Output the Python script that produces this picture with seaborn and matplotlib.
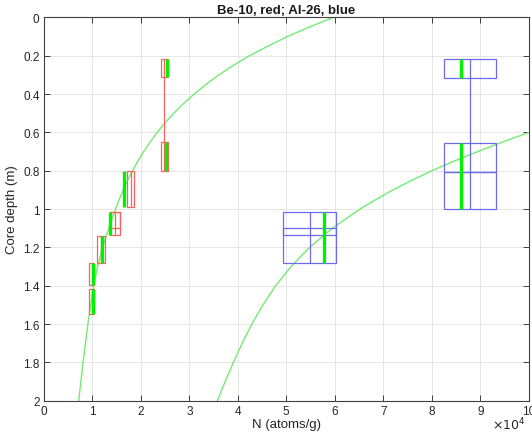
import numpy as np
import pandas as pd
import matplotlib
matplotlib.use("Agg")
import matplotlib.pyplot as plt
from matplotlib.patches import Rectangle
import seaborn as sns

# Measured concentrations (units of 1e4 atoms/g) and sample depth intervals (m)
be_N = [2.485, 2.485, 1.795, 1.468, 1.468, 1.185, 0.99, 0.99]
be_dN = [0.07, 0.07, 0.075, 0.103, 0.103, 0.085, 0.05, 0.05]
be_ztop = [0.217, 0.649, 0.800, 1.017, 1.017, 1.139, 1.283, 1.418]
be_zbot = [0.313, 0.800, 0.991, 1.134, 1.099, 1.282, 1.397, 1.548]

# Vertical lines at the measured values (amalgamated intervals share one line)
be_line_N = [2.485, 1.795, 1.468, 1.185, 0.99, 0.99]
be_line_top = [0.217, 0.800, 1.017, 1.139, 1.283, 1.418]
be_line_bot = [0.800, 0.991, 1.134, 1.282, 1.397, 1.548]

al_N = [8.79, 8.79, 8.79, 5.48, 5.48]
al_dN = [0.53, 0.53, 0.53, 0.54, 0.54]
al_ztop = [0.218, 0.654, 0.807, 1.017, 1.099]
al_zbot = [0.315, 0.807, 1.002, 1.134, 1.282]

al_line_N = [8.79, 5.48]
al_line_top = [0.218, 1.017]
al_line_bot = [1.002, 1.282]

# Model predictions for each sample interval
be_pred_N = [2.54, 2.53, 1.654, 1.365, 1.21, 1.02, 1.01]
be_pred_top = [0.217, 0.649, 0.800, 1.017, 1.139, 1.283, 1.418]
be_pred_bot = [0.313, 0.800, 0.991, 1.134, 1.282, 1.397, 1.548]

al_pred_N = [8.60, 8.60, 5.78]
al_pred_top = [0.218, 0.654, 1.017]
al_pred_bot = [0.315, 1.002, 1.282]

# Model depth profiles
be_curve_z = [0.0, 0.05, 0.1, 0.15, 0.2, 0.25, 0.3, 0.35, 0.4, 0.45, 0.5, 0.55, 0.6,
              0.65, 0.7, 0.75, 0.8, 0.85, 0.9, 0.95, 1.0, 1.1, 1.2, 1.3, 1.4, 1.5,
              1.6, 1.7, 1.8, 1.9, 2.0]
be_curve_N = [5.97, 5.48, 5.02, 4.62, 4.24, 3.91, 3.61, 3.345, 3.10, 2.88, 2.68, 2.50, 2.34,
              2.195, 2.06, 1.94, 1.83, 1.73, 1.64, 1.555, 1.48, 1.34, 1.21, 1.11, 1.03, 0.965,
              0.91, 0.86, 0.81, 0.765, 0.72]

al_curve_z = [0.601, 0.65, 0.7, 0.75, 0.8, 0.85, 0.9, 0.95, 1.0, 1.1, 1.2, 1.3, 1.4,
              1.5, 1.6, 1.7, 1.8, 1.9, 2.0]
al_curve_N = [10.0, 9.46, 8.95, 8.46, 8.0, 7.59, 7.2, 6.85, 6.52, 5.95, 5.48, 5.1, 4.78,
              4.52, 4.29, 4.09, 3.91, 3.74, 3.58]

x_ticks = list(range(0, 11))
y_ticks = [0, 0.2, 0.4, 0.6, 0.8, 1, 1.2, 1.4, 1.6, 1.8, 2]
y_tick_labels = ["0", "0.2", "0.4", "0.6", "0.8", "1", "1.2", "1.4", "1.6", "1.8", "2"]

sns.set_theme(style="whitegrid")
plt.rcParams["font.family"] = ["Liberation Sans", "DejaVu Sans"]

fig = plt.figure(figsize=(5.32, 4.35), dpi=100)
ax = fig.add_axes([0.0823, 0.0766, 0.9117, 0.8811])
ax.set_facecolor("white")

red = (1.0, 0.38, 0.38)
blue = (0.42, 0.42, 0.92)
green = (0.0, 0.95, 0.0)
light_green = (0.45, 0.92, 0.45)

# Model curves
sns.lineplot(data=pd.DataFrame({"N": be_curve_N, "z": be_curve_z}), x="N", y="z",
             sort=False, estimator=None, color=light_green, lw=1.0, ax=ax)
sns.lineplot(data=pd.DataFrame({"N": al_curve_N, "z": al_curve_z}), x="N", y="z",
             sort=False, estimator=None, color=light_green, lw=1.0, ax=ax)

# Measurement boxes
for N, dN, zt, zb in zip(be_N, be_dN, be_ztop, be_zbot):
    ax.add_patch(Rectangle((N - dN, zt), 2 * dN, zb - zt, fill=False,
                           edgecolor=red, lw=0.9, zorder=3))
ax.vlines(be_line_N, be_line_top, be_line_bot, color=red, lw=0.9, zorder=3)

for N, dN, zt, zb in zip(al_N, al_dN, al_ztop, al_zbot):
    ax.add_patch(Rectangle((N - dN, zt), 2 * dN, zb - zt, fill=False,
                           edgecolor=blue, lw=0.9, zorder=3))
ax.vlines(al_line_N, al_line_top, al_line_bot, color=blue, lw=0.9, zorder=3)

# Predicted values
ax.vlines(be_pred_N, be_pred_top, be_pred_bot, color=green, lw=2.4, zorder=4)
ax.vlines(al_pred_N, al_pred_top, al_pred_bot, color=green, lw=2.4, zorder=4)

ax.set_xlim(0, 10)
ax.set_ylim(2, 0)
ax.set_xticks(x_ticks)
ax.set_xticklabels([str(t) for t in x_ticks])
ax.set_yticks(y_ticks)
ax.set_yticklabels(y_tick_labels)

ax.grid(True, color=(0.9, 0.9, 0.9), lw=0.7)
for s in ax.spines.values():
    s.set_visible(True)
    s.set_color((0.25, 0.25, 0.25))
    s.set_linewidth(0.8)
ax.tick_params(direction="in", length=4, width=0.7, colors=(0.25, 0.25, 0.25),
               labelcolor=(0.15, 0.15, 0.15), labelsize=8.5,
               top=True, right=True, bottom=True, left=True, pad=3)

ax.set_xlabel("N (atoms/g)", fontsize=9.5, color=(0.15, 0.15, 0.15), labelpad=1)
ax.set_ylabel("Core depth (m)", fontsize=9.5, color=(0.15, 0.15, 0.15), labelpad=4)
ax.set_title("Be-10, red; Al-26, blue", fontsize=9.5, fontweight="bold",
             color=(0.1, 0.1, 0.1), pad=3)
fig.text(0.925, 0.005, r"$\times10^{4}$", fontsize=9, color=(0.15, 0.15, 0.15),
         ha="left", va="bottom")

fig.savefig("out.png", dpi=100)
